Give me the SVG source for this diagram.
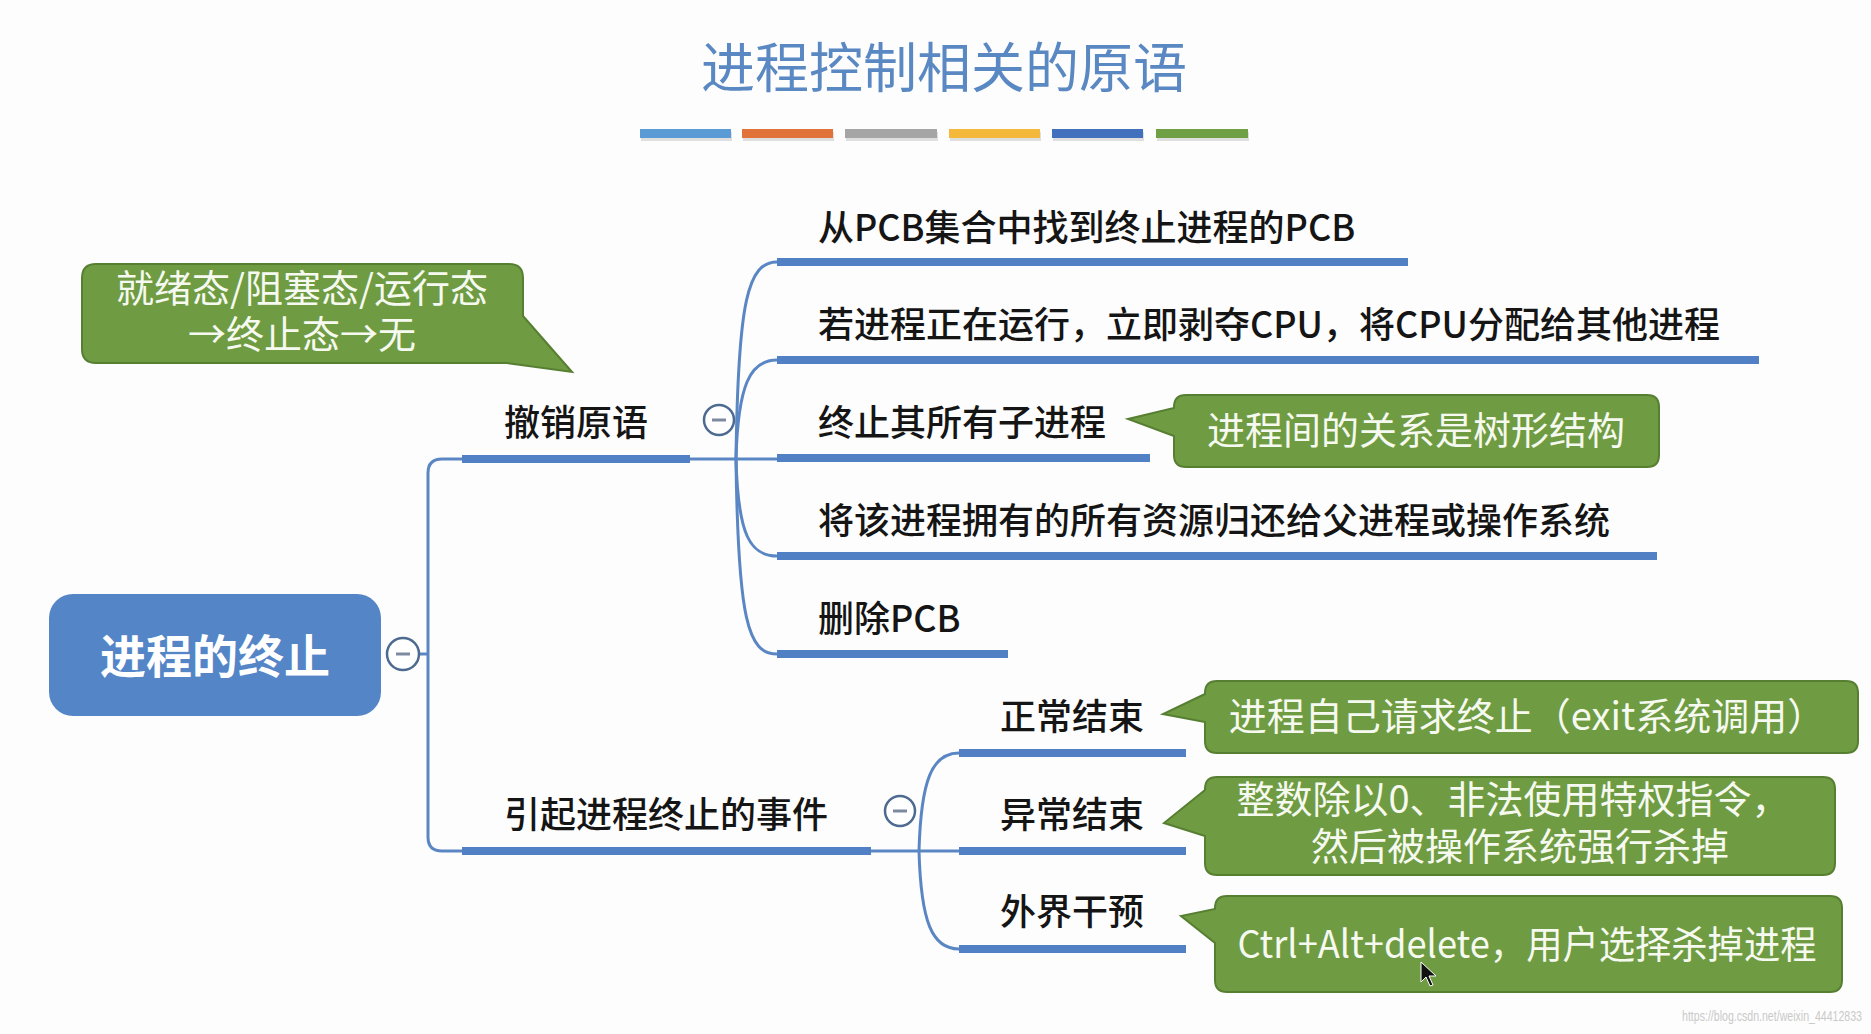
<svg xmlns="http://www.w3.org/2000/svg" width="1871" height="1034" viewBox="0 0 1871 1034">
<style>
.t{font-family:"Noto Sans CJK SC","Noto Sans",sans-serif;}
.lbl{font-size:36px;fill:#151515;font-weight:500;}
.ct{font-size:38px;fill:#f6f9f0;text-anchor:middle;}
.bar{fill:#5181c4;}
.co{fill:#6f9c42;stroke:#577f32;stroke-width:2;}
.cn{fill:none;stroke:#5a87c4;stroke-width:3;}
.tog circle{fill:#fff;stroke:#4d6a90;stroke-width:2.5;}
.tog line{stroke:#7d8aa0;stroke-width:3;}
</style>
<rect width="1871" height="1034" fill="#fdfdfd"/>
<g id="title">
<text class="t" x="944" y="88" font-size="54" fill="#5a88c2" text-anchor="middle">进程控制相关的原语</text>
<g id="colorbars">
<rect x="641" y="132" width="91" height="9" fill="#ccc" opacity="0.6"/>
<rect x="743" y="132" width="91" height="9" fill="#ccc" opacity="0.6"/>
<rect x="846" y="132" width="92" height="9" fill="#ccc" opacity="0.6"/>
<rect x="950" y="132" width="91" height="9" fill="#ccc" opacity="0.6"/>
<rect x="1053" y="132" width="91" height="9" fill="#ccc" opacity="0.6"/>
<rect x="1157" y="132" width="92" height="9" fill="#ccc" opacity="0.6"/>
<rect x="640" y="129" width="91" height="9" fill="#5b9bd5"/>
<rect x="742" y="129" width="91" height="9" fill="#e1733a"/>
<rect x="845" y="129" width="92" height="9" fill="#a5a5a5"/>
<rect x="949" y="129" width="91" height="9" fill="#f4b83a"/>
<rect x="1052" y="129" width="91" height="9" fill="#4270bd"/>
<rect x="1156" y="129" width="92" height="9" fill="#6fa046"/>
</g>
</g>
<g id="connectors">
<path class="cn" d="M419 654 H428"/>
<path class="cn" d="M462 459 H442 Q428 459 428 473 V837 Q428 851 442 851 H462"/>
<path class="cn" d="M690 459 H777"/>
<path class="cn" d="M736 459 C738 300 748 262 777 262"/>
<path class="cn" d="M736 459 C738 385 750 360 777 360"/>
<path class="cn" d="M736 459 C738 535 750 556 777 556"/>
<path class="cn" d="M736 459 C738 620 748 654 777 654"/>
<path class="cn" d="M871 851 H959"/>
<path class="cn" d="M919 851 C921 780 932 753 959 753"/>
<path class="cn" d="M919 851 C921 922 932 949 959 949"/>
</g>
<g id="root">
<rect x="49" y="594" width="332" height="122" rx="24" fill="#5385c7"/>
<text class="t" x="215" y="673" font-size="46" font-weight="700" fill="#fff" text-anchor="middle">进程的终止</text>
<g class="tog"><circle cx="403" cy="654" r="16"/><line x1="396" y1="654" x2="410" y2="654"/></g>
</g>
<g id="n-chexiao">
<text class="t lbl" x="504" y="436">撤销原语</text>
<rect class="bar" x="462" y="455" width="228" height="8"/>
<g class="tog"><circle cx="719" cy="420" r="15"/><line x1="712" y1="420" x2="726" y2="420"/></g>
</g>
<g id="n-c1"><text class="t lbl" x="818" y="241">从PCB集合中找到终止进程的PCB</text><rect class="bar" x="777" y="258" width="631" height="8"/></g>
<g id="n-c2"><text class="t lbl" x="818" y="338">若进程正在运行，立即剥夺CPU，将CPU分配给其他进程</text><rect class="bar" x="777" y="356" width="982" height="8"/></g>
<g id="n-c3"><text class="t lbl" x="818" y="436">终止其所有子进程</text><rect class="bar" x="777" y="454" width="373" height="8"/></g>
<g id="n-c4"><text class="t lbl" x="818" y="534">将该进程拥有的所有资源归还给父进程或操作系统</text><rect class="bar" x="777" y="552" width="880" height="8"/></g>
<g id="n-c5"><text class="t lbl" x="818" y="632">删除PCB</text><rect class="bar" x="777" y="650" width="231" height="8"/></g>
<g id="n-yinqi">
<text class="t lbl" x="504" y="828">引起进程终止的事件</text>
<rect class="bar" x="462" y="847" width="409" height="8"/>
<g class="tog"><circle cx="900" cy="811" r="15"/><line x1="893" y1="811" x2="907" y2="811"/></g>
</g>
<g id="n-e1"><text class="t lbl" x="1000" y="730">正常结束</text><rect class="bar" x="959" y="749" width="227" height="8"/></g>
<g id="n-e2"><text class="t lbl" x="1000" y="828">异常结束</text><rect class="bar" x="959" y="847" width="227" height="8"/></g>
<g id="n-e3"><text class="t lbl" x="1000" y="925">外界干预</text><rect class="bar" x="959" y="945" width="227" height="8"/></g>
<g id="callout-state">
<path class="co" d="M96 264 H509 Q523 264 523 278 V316 L572 372 L507 363 H96 Q82 363 82 349 V278 Q82 264 96 264 Z"/>
<text class="t ct" font-size="37"><tspan x="302" y="302">就绪态/阻塞态/运行态</tspan><tspan x="302" y="348">→终止态→无</tspan></text>
</g>
<g id="callout-tree">
<path class="co" d="M1186 395 H1647 Q1659 395 1659 407 V455 Q1659 467 1647 467 H1186 Q1174 467 1174 455 V436 L1128 419 L1174 408 V407 Q1174 395 1186 395 Z"/>
<text class="t ct" x="1416" y="444">进程间的关系是树形结构</text>
</g>
<g id="callout-normal">
<path class="co" d="M1217 681 H1846 Q1858 681 1858 693 V741 Q1858 753 1846 753 H1217 Q1205 753 1205 741 V722 L1163 714 L1205 694 V693 Q1205 681 1217 681 Z"/>
<text class="t ct" x="1527" y="730">进程自己请求终止（exit系统调用）</text>
</g>
<g id="callout-abnormal">
<path class="co" d="M1217 777 H1823 Q1835 777 1835 789 V863 Q1835 875 1823 875 H1217 Q1205 875 1205 863 V836 L1164 823 L1205 790 V789 Q1205 777 1217 777 Z"/>
<text class="t ct"><tspan x="1513" y="813">整数除以0、非法使用特权指令，</tspan><tspan x="1520" y="860">然后被操作系统强行杀掉</tspan></text>
</g>
<g id="callout-external">
<path class="co" d="M1227 896 H1830 Q1842 896 1842 908 V980 Q1842 992 1830 992 H1227 Q1215 992 1215 980 V943 L1181 916 L1215 909 V908 Q1215 896 1227 896 Z"/>
<text class="t ct" x="1527" y="958" textLength="579" lengthAdjust="spacingAndGlyphs">Ctrl+Alt+delete，用户选择杀掉进程</text>
</g>
<path d="M1421 962 L1421 982 L1426 977 L1430 986 L1433 985 L1429 976 L1436 976 Z" fill="#111" stroke="#fff" stroke-width="1"/>
<text x="1862" y="1021" font-family="Liberation Sans, sans-serif" font-size="15" fill="#c9c9c9" text-anchor="end" textLength="180" lengthAdjust="spacingAndGlyphs">https://blog.csdn.net/weixin_44412833</text>
</svg>
